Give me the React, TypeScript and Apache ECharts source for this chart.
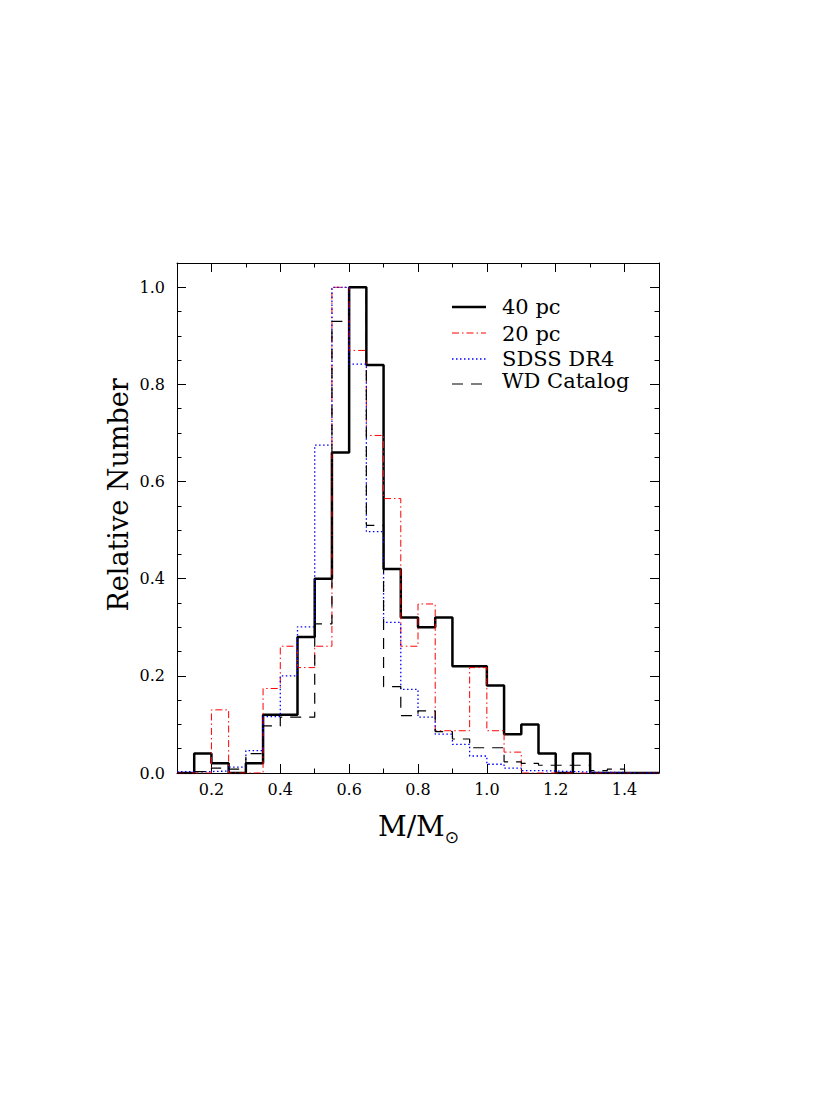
import React, { useEffect, useRef } from 'react';
import * as echarts from 'echarts';

// Histogram bins (left edges), last right edge 1.50
const binStarts = [0.10, 0.15, 0.20, 0.25, 0.30, 0.35, 0.40, 0.45, 0.50, 0.55, 0.60, 0.65, 0.70, 0.75,
  0.80, 0.85, 0.90, 0.95, 1.00, 1.05, 1.10, 1.15, 1.20, 1.25, 1.30, 1.35, 1.40, 1.45];
const binEnd = 1.5;

const pc40 = [0, 0.04, 0.02, 0, 0.02, 0.12, 0.12, 0.28, 0.40, 0.66, 1.00, 0.84, 0.42, 0.32,
  0.30, 0.32, 0.22, 0.22, 0.18, 0.08, 0.10, 0.04, 0, 0.04, 0, 0, 0, 0];
const pc20 = [0, 0, 0.13, 0, 0, 0.174, 0.261, 0.217, 0.261, 1.00, 0.87, 0.695, 0.565, 0.261,
  0.348, 0.087, 0.087, 0.217, 0.087, 0.043, 0, 0, 0, 0, 0, 0, 0, 0];
const sdssDr4 = [0.003, 0.003, 0.004, 0.012, 0.046, 0.116, 0.20, 0.301, 0.675, 1.00, 0.842, 0.497, 0.31, 0.172,
  0.115, 0.08, 0.059, 0.035, 0.018, 0.01, 0.005, 0.004, 0.003, 0.002, 0.001, 0.001, 0, 0];
const wdCatalog = [0, 0.003, 0.01, 0.008, 0.04, 0.097, 0.115, 0.115, 0.307, 0.93, 1.00, 0.51, 0.178, 0.118,
  0.128, 0.085, 0.07, 0.052, 0.052, 0.023, 0.02, 0.016, 0.016, 0.016, 0.005, 0.008, 0, 0];

const seriesNames = ['40 pc', '20 pc', 'SDSS DR4', 'WD Catalog'];

const xMajorTicks = [0.2, 0.4, 0.6, 0.8, 1.0, 1.2, 1.4];
const xMinorTicks = [0.1, 0.3, 0.5, 0.7, 0.9, 1.1, 1.3, 1.5];
const yMajorTicks = [0, 0.2, 0.4, 0.6, 0.8, 1.0];
const yMinorTicks = [0.05, 0.1, 0.15, 0.25, 0.3, 0.35, 0.45, 0.5, 0.55, 0.65, 0.7, 0.75, 0.85, 0.9, 0.95, 1.05];

const FONT = 'DejaVu Serif';

function steps(vals: number[]) {
  const pts = binStarts.map((x, i) => [x, vals[i]]);
  pts.push([binEnd, vals[vals.length - 1]]);
  return pts;
}

function xAxisDef(position: string, ticks: number[], len: number, showLine: boolean, showLabel: boolean) {
  return {
    type: 'value', position, min: 0.1, max: 1.5,
    axisLine: { show: showLine, onZero: false, lineStyle: { color: '#000', width: 1 } },
    axisTick: { show: true, inside: true, length: len, customValues: ticks, lineStyle: { color: '#000', width: 1 } },
    axisLabel: {
      show: showLabel, customValues: ticks, margin: 8, color: '#000', fontFamily: FONT, fontSize: 16,
      formatter: (v: number) => v.toFixed(1),
    },
    splitLine: { show: false },
  };
}

function yAxisDef(position: string, ticks: number[], len: number, showLine: boolean, showLabel: boolean) {
  return {
    type: 'value', position, min: 0, max: 1.05,
    axisLine: { show: showLine, onZero: false, lineStyle: { color: '#000', width: 1 } },
    axisTick: { show: true, inside: true, length: len, customValues: ticks, lineStyle: { color: '#000', width: 1 } },
    axisLabel: {
      show: showLabel, customValues: ticks, margin: 12, color: '#000', fontFamily: FONT, fontSize: 16,
      formatter: (v: number) => v.toFixed(1),
    },
    splitLine: { show: false },
  };
}

const legendStyles = [
  { color: '#000', width: 2.5, dash: 'solid' as any },
  { color: '#ff0000', width: 1, dash: [7, 3, 1.5, 3] },
  { color: '#0000ff', width: 1.3, dash: [1.5, 2.5] },
  { color: '#000', width: 1.2, dash: [11, 8] },
];

export default function App() {
  const ref = useRef<HTMLDivElement>(null);
  useEffect(() => {
    if (!ref.current) return;
    const chart = echarts.init(ref.current, undefined, { renderer: 'svg' });
    const allData = [pc40, pc20, sdssDr4, wdCatalog];
    const legendY = [307, 333, 359, 384];
    const legendTextY = [307, 334, 359, 381];
    const graphics: any[] = [];
    seriesNames.forEach((name, i) => {
      const st = legendStyles[i];
      graphics.push({
        type: 'line', shape: { x1: 452, y1: legendY[i], x2: 486, y2: legendY[i] },
        style: { stroke: st.color, lineWidth: st.width, lineDash: st.dash === 'solid' ? null : st.dash },
      });
      graphics.push({
        type: 'text', x: 502, y: legendTextY[i],
        style: { text: name, fill: '#000', font: `21px "${FONT}"`, textAlign: 'left', textVerticalAlign: 'middle' },
      });
    });
    graphics.push({
      type: 'text', x: 118, y: 495, rotation: Math.PI / 2,
      style: { text: 'Relative Number', fill: '#000', font: `27px "${FONT}"`, textAlign: 'center', textVerticalAlign: 'middle' },
    });
    graphics.push({
      type: 'text', x: 378, y: 826,
      style: {
        text: '{a|M/M}{b|⊙}', textAlign: 'left', textVerticalAlign: 'middle',
        rich: {
          a: { fontFamily: FONT, fontSize: 28, fill: '#000', color: '#000' },
          b: { fontFamily: 'DejaVu Sans', fontSize: 17, fill: '#000', color: '#000', padding: [22, 0, 0, 0] },
        },
      },
    });

    chart.setOption({
      animation: false,
      backgroundColor: '#fff',
      grid: { left: 177, top: 263, width: 482, height: 510, containLabel: false },
      xAxis: [
        xAxisDef('bottom', xMajorTicks, 9, true, true),
        xAxisDef('bottom', xMinorTicks, 4.5, false, false),
        xAxisDef('top', xMajorTicks, 9, true, false),
        xAxisDef('top', xMinorTicks, 4.5, false, false),
      ],
      yAxis: [
        yAxisDef('left', yMajorTicks, 9, true, true),
        yAxisDef('left', yMinorTicks, 4.5, false, false),
        yAxisDef('right', yMajorTicks, 9, true, false),
        yAxisDef('right', yMinorTicks, 4.5, false, false),
      ],
      series: allData.map((vals, i) => ({
        name: seriesNames[i],
        type: 'line',
        step: 'end',
        xAxisIndex: 0,
        yAxisIndex: 0,
        showSymbol: false,
        silent: true,
        data: steps(vals),
        lineStyle: {
          color: legendStyles[i].color,
          width: legendStyles[i].width,
          type: legendStyles[i].dash,
        },
        z: 2 + i,
      })),
      graphic: graphics,
    });
    return () => chart.dispose();
  }, []);
  return <div ref={ref} style={{ position: 'fixed', left: 0, top: 0, width: 830, height: 1106, background: '#fff' }} />;
}
